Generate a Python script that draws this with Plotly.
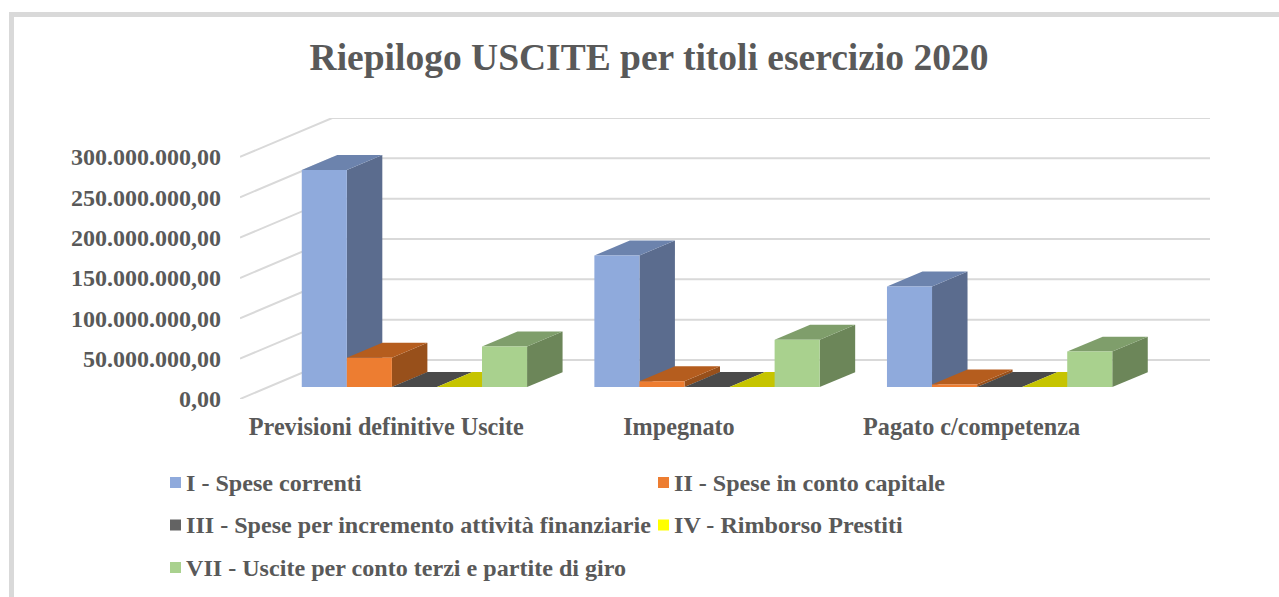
import plotly.graph_objects as go

W, H = 1279, 597

categories = ["Previsioni definitive Uscite", "Impegnato", "Pagato c/competenza"]
series_names = [
    "I - Spese correnti",
    "II - Spese in conto capitale",
    "III - Spese per incremento attività finanziarie",
    "IV - Rimborso Prestiti",
    "VII - Uscite per conto terzi e partite di giro",
]
spese_correnti = [269000000, 163000000, 124600000]
spese_capitale = [36400000, 7400000, 3300000]
spese_finanziarie = [200000, 200000, 200000]
rimborso_prestiti = [200000, 200000, 200000]
conto_terzi = [50400000, 58700000, 44000000]
tick_values = [0, 50000000, 100000000, 150000000, 200000000, 250000000, 300000000]
tick_labels = ["0,00", "50.000.000,00", "100.000.000,00", "150.000.000,00",
               "200.000.000,00", "250.000.000,00", "300.000.000,00"]

all_values = [spese_correnti, spese_capitale, spese_finanziarie, rimborso_prestiti, conto_terzi]
front_colors = ["#8FAADC", "#ED7D31", "#4A4A4A", "#C6C400", "#A9D18E"]
top_colors = ["#6C83AD", "#B55D1E", "#4A4A4A", "#C6C400", "#7F9E6B"]
side_colors = ["#5B6C8E", "#98501B", "#3A3A3A", "#A0A000", "#6C8659"]
legend_colors = ["#8FAADC", "#ED7D31", "#636363", "#FFFF00", "#A9D18E"]

# oblique projection of depth: one full depth moves the point by DX categories and DY value units
DX = 92 / 292
DY = 39 / 40.4 * 50000000
DEPTH_START, DEPTH_END = 0.305, 0.69
GROUP_WIDTH = 0.77
BAR_WIDTH = GROUP_WIDTH / 5
FONT = "Liberation Serif"
TEXT = "#595959"
GRID = "#D9D9D9"


def project(x, v, d):
    return x + d * DX, v + d * DY


def polygon(points):
    xs, ys = zip(*points)
    return list(xs) + [xs[0]], list(ys) + [ys[0]]


fig = go.Figure()

# walls
left_edge, right_edge = -0.5, 2.5
gx, gy = [], []
for v in tick_values:
    a = project(left_edge, v, 0)
    b = project(left_edge, v, 1)
    c = project(right_edge, v, 1)
    gx += [a[0], b[0], c[0], None]
    gy += [a[1], b[1], c[1], None]
fig.add_trace(go.Scatter(x=gx, y=gy, mode="lines", line=dict(color=GRID, width=2),
                         hoverinfo="skip", showlegend=False, cliponaxis=False))

# bars, drawn from the left so that each one covers the side of its neighbour
for c_i, cat in enumerate(categories):
    for s_i, name in enumerate(series_names):
        v = all_values[s_i][c_i]
        x0 = c_i - GROUP_WIDTH / 2 + s_i * BAR_WIDTH
        x1 = x0 + BAR_WIDTH
        faces = [
            ([project(x1, 0, DEPTH_START), project(x1, 0, DEPTH_END),
              project(x1, v, DEPTH_END), project(x1, v, DEPTH_START)], side_colors[s_i]),
            ([project(x0, v, DEPTH_START), project(x1, v, DEPTH_START),
              project(x1, v, DEPTH_END), project(x0, v, DEPTH_END)], top_colors[s_i]),
            ([project(x0, 0, DEPTH_START), project(x1, 0, DEPTH_START),
              project(x1, v, DEPTH_START), project(x0, v, DEPTH_START)], front_colors[s_i]),
        ]
        for pts, col in faces:
            px, py = polygon(pts)
            fig.add_trace(go.Scatter(x=px, y=py, mode="lines", fill="toself", fillcolor=col,
                                     line=dict(width=0, color=col), name=name,
                                     text=f"{cat}: {v}", hoverinfo="text", showlegend=False))

# legend
legend_cols = [170, 170, 170, 658, 658]
legend_order = [0, 2, 4, 1, 3]
legend_rows = [482.5, 525, 567.5, 482.5, 525]
shapes = [
    dict(type="rect", xref="paper", yref="paper", x0=9 / W, x1=14 / W, y0=0, y1=1 - 12 / H,
         fillcolor=GRID, line_width=0),
    dict(type="rect", xref="paper", yref="paper", x0=9 / W, x1=1, y0=1 - 17 / H, y1=1 - 12 / H,
         fillcolor=GRID, line_width=0),
]
annotations = []
for idx, lx, ly in zip(legend_order, legend_cols, legend_rows):
    shapes.append(dict(type="rect", xref="paper", yref="paper", x0=lx / W, x1=(lx + 11) / W,
                       y0=1 - (ly + 5.5) / H, y1=1 - (ly - 5.5) / H,
                       fillcolor=legend_colors[idx], line_width=0))
    annotations.append(dict(xref="paper", yref="paper", x=(lx + 14) / W, y=1 - ly / H,
                            xanchor="left", yanchor="middle", showarrow=False,
                            text=f"<b>{series_names[idx]}</b>",
                            font=dict(family=FONT, size=24.1, color=TEXT)))

fig.update_layout(
    width=W, height=H, margin=dict(l=0, r=0, t=0, b=0, pad=0),
    paper_bgcolor="white", plot_bgcolor="rgba(0,0,0,0)", showlegend=False,
    title=dict(text="<b>Riepilogo USCITE per titoli esercizio 2020</b>",
               x=649 / W, xanchor="center", y=1 - 57 / H, yanchor="middle",
               font=dict(family=FONT, size=37.5, color=TEXT)),
    xaxis=dict(domain=[240 / W, 1210 / W], range=[left_edge, right_edge + DX],
               automargin=False,
               tickmode="array", tickvals=[0, 1, 2],
               ticktext=[f"<b>{c}</b>" for c in categories],
               showgrid=False, zeroline=False, showline=False, ticks="",
               ticklabelstandoff=11,
               tickfont=dict(family=FONT, size=24.2, color=TEXT)),
    yaxis=dict(domain=[1 - 399 / H, 1 - 118 / H], range=[0, 300000000 + DY],
               automargin=False,
               tickmode="array", tickvals=tick_values,
               ticktext=[f"<b>{t}</b>" for t in tick_labels],
               showgrid=False, zeroline=False, showline=False, ticks="",
               ticklabelstandoff=18,
               tickfont=dict(family=FONT, size=24, color=TEXT)),
    shapes=shapes, annotations=annotations,
)

fig.write_html("out.html", config={"displayModeBar": False},
               post_script="document.body.style.margin='0';")
